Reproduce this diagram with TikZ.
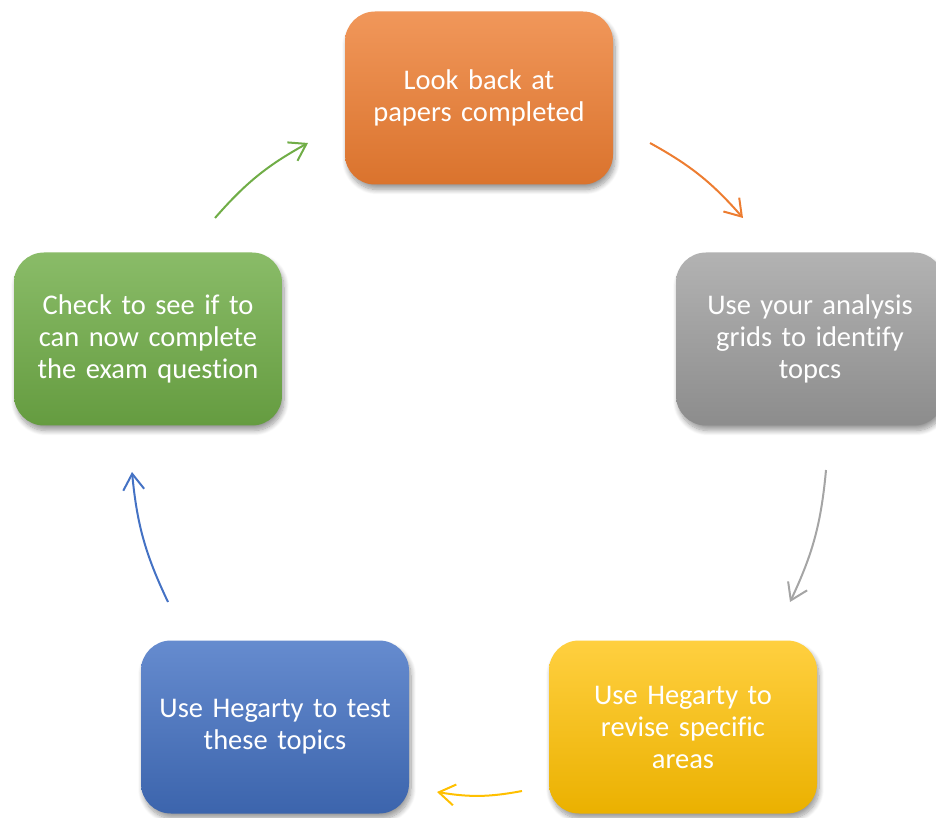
\documentclass[tikz,border=0pt]{standalone}
\usepackage{fontspec}
\setmainfont{Carlito}[Ligatures=NoCommon]
\usetikzlibrary{arrows.meta,shadows.blur}

\definecolor{accOrange}{HTML}{ED7D31}
\definecolor{accGray}{HTML}{A5A5A5}
\definecolor{accYellow}{HTML}{FFC000}
\definecolor{accBlue}{HTML}{4472C4}
\definecolor{accGreen}{HTML}{70AD47}

\begin{document}
\begin{tikzpicture}[x=1pt, y=1pt]
    % Define styles
    \tikzset{
        stage/.style={rounded corners=30pt, minimum width=268pt, minimum height=173pt, text width=255pt, align=center, text=white, font=\fontsize{28.5}{32}\selectfont, blur shadow={shadow xshift=2pt, shadow yshift=-5pt, shadow blur radius=5pt, shadow blur steps=10, shadow opacity=40}},
        flow/.style={-{Straight Barb[length=16pt, width=21pt]}, line width=2pt, bend left=10}
    }

    % Frame
    \useasboundingbox (0,0) rectangle (936,817);

    % Stage nodes
    \node[stage, top color=accOrange!80!white, middle color=accOrange, bottom color=accOrange!92!black] (look) at (479,719) {Look back at\\papers completed};
    \node[stage, top color=accGray!85!white, middle color=accGray, bottom color=accGray!85!black] (grids) at (810,478) {Use your analysis\\grids to identify\\topcs};
    \node[stage, top color=accYellow!75!white, middle color=accYellow, bottom color=accYellow!92!black] (revise) at (683,90) {Use Hegarty to\\revise specific\\areas};
    \node[stage, top color=accBlue!82!white, middle color=accBlue, bottom color=accBlue!88!black] (test) at (275,90) {Use Hegarty to test\\these topics};
    \node[stage, top color=accGreen!82!white, middle color=accGreen, bottom color=accGreen!90!black] (check) at (148,478) {Check to see if to\\can now complete\\the exam question};

    % Arrow ends
    \coordinate (lookOut) at (650,674);
    \coordinate (gridsIn) at (743,599);
    \coordinate (gridsOut) at (826,347);
    \coordinate (reviseIn) at (790,215);
    \coordinate (reviseOut) at (522,26);
    \coordinate (testIn) at (437,25);
    \coordinate (testOut) at (168,215);
    \coordinate (checkIn) at (132,345);
    \coordinate (checkOut) at (215,599);
    \coordinate (lookIn) at (308,674);

    % Arrows
    \draw[flow, draw=accOrange] (lookOut) to (gridsIn);
    \draw[flow, draw=accGray] (gridsOut) to (reviseIn);
    \draw[flow, draw=accYellow] (reviseOut) to (testIn);
    \draw[flow, draw=accBlue] (testOut) to (checkIn);
    \draw[flow, draw=accGreen] (checkOut) to (lookIn);

\end{tikzpicture}
\end{document}
